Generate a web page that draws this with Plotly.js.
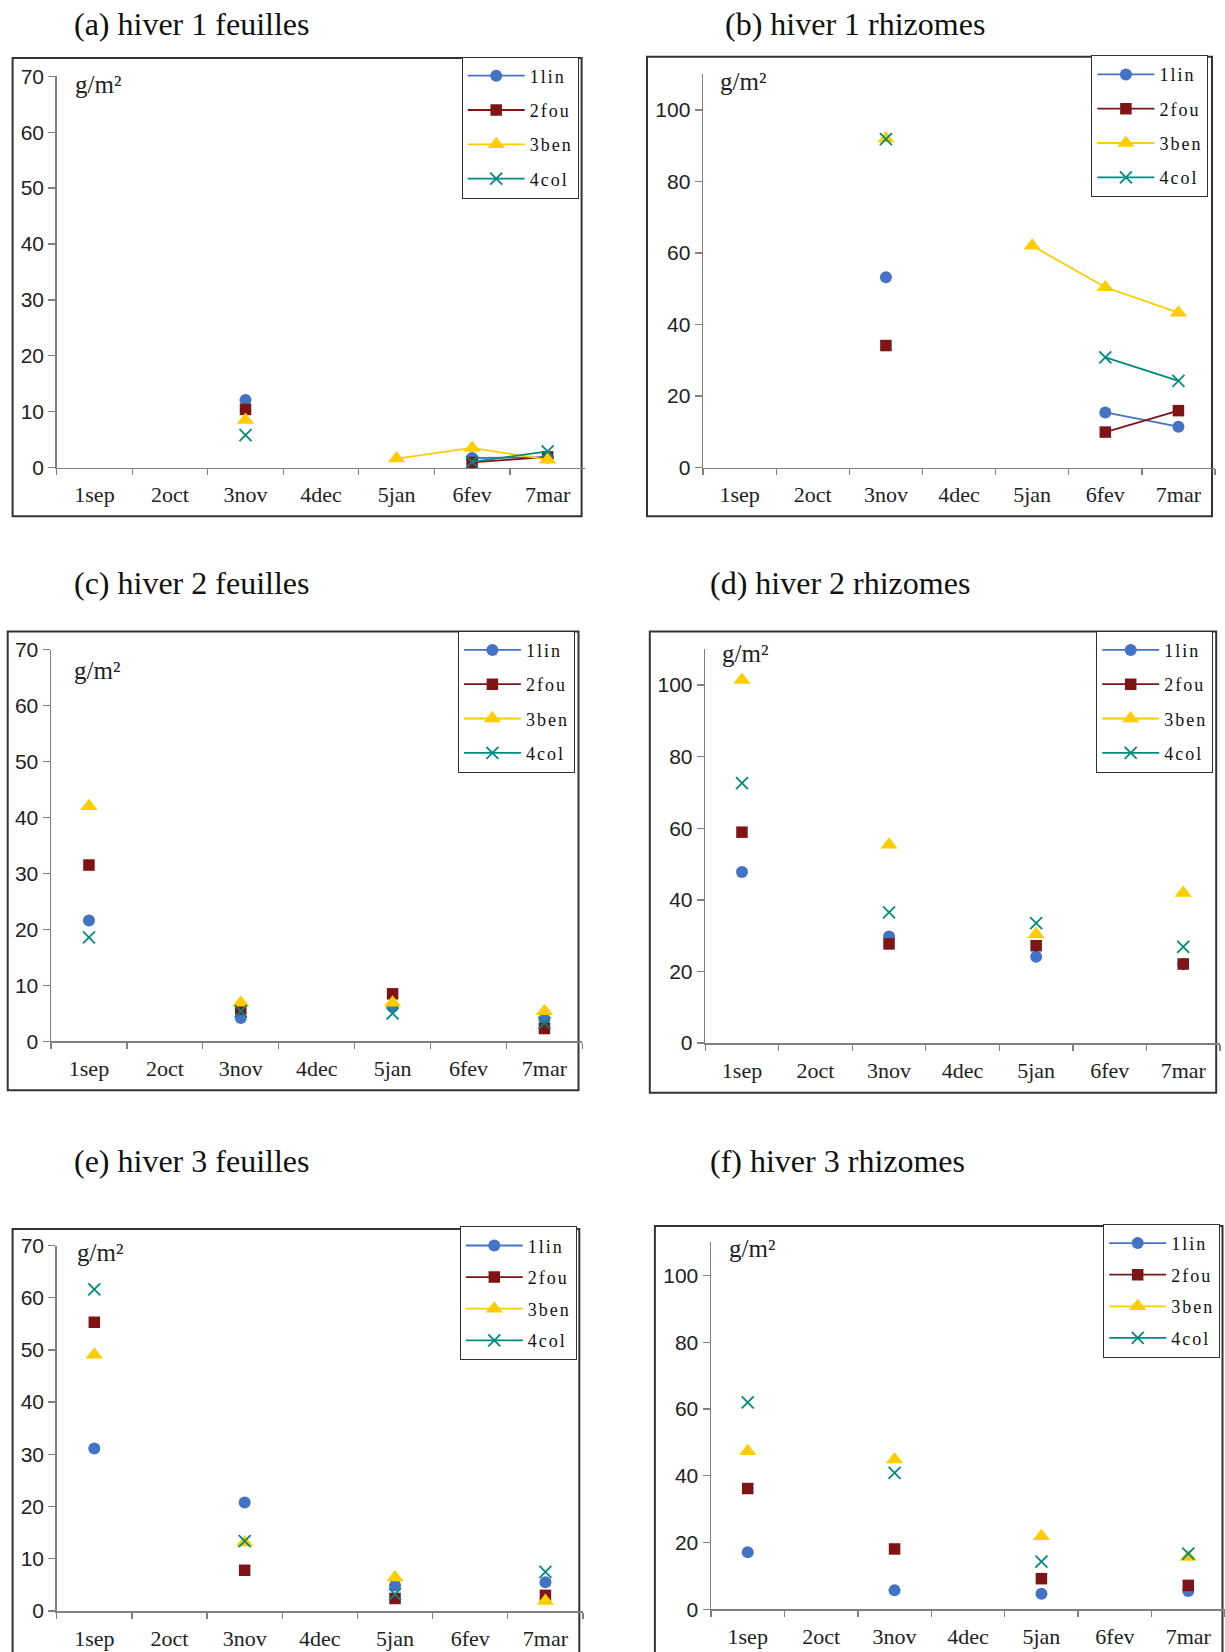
<!DOCTYPE html>
<html>
<head>
<meta charset="utf-8">
<script src="https://cdn.plot.ly/plotly-3.0.1.min.js"></script>
<style>
  html, body { margin: 0; padding: 0; background: #ffffff; }
  #chart { width: 1225px; height: 1652px; }
</style>
</head>
<body>
<div id="chart"></div>
<script>
// ---------- data ----------
const categories = ['1sep', '2oct', '3nov', '4dec', '5jan', '6fev', '7mar'];
const seriesNames = ['1lin', '2fou', '3ben', '4col'];
const panelTitles = [
  '(a) hiver 1 feuilles', '(b) hiver 1 rhizomes',
  '(c) hiver 2 feuilles', '(d) hiver 2 rhizomes',
  '(e) hiver 3 feuilles', '(f) hiver 3 rhizomes'
];
const unitLabel = 'g/m²';

// (a) hiver 1 feuilles
const a_lin = [null, null, 12.1, null, null, 1.7, 1.8];
const a_fou = [null, null, 10.4, null, null, 0.9, 1.9];
const a_ben = [null, null, 8.5, null, 1.6, 3.5, 1.4];
const a_col = [null, null, 5.8, null, null, 1.0, 2.9];
// (b) hiver 1 rhizomes
const b_lin = [null, null, 53.2, null, null, 15.4, 11.4];
const b_fou = [null, null, 34.1, null, null, 9.9, 15.9];
const b_ben = [null, null, 92.0, null, 62.0, 50.4, 43.3];
const b_col = [null, null, 91.8, null, null, 30.8, 24.2];
// (c) hiver 2 feuilles
const c_lin = [21.6, null, 4.2, null, 6.2, null, 3.9];
const c_fou = [31.5, null, 5.8, null, 8.5, null, 2.3];
const c_ben = [42.0, null, 6.9, null, 6.9, null, 5.4];
const c_col = [18.6, null, 5.4, null, 5.0, null, 3.3];
// (d) hiver 2 rhizomes
const d_lin = [47.8, null, 29.8, null, 24.1, null, 22.0];
const d_fou = [58.9, null, 27.7, null, 27.2, null, 22.1];
const d_ben = [101.4, null, 55.4, null, 30.4, null, 41.9];
const d_col = [72.6, null, 36.5, null, 33.5, null, 26.9];
// (e) hiver 3 feuilles
const e_lin = [31.1, null, 20.8, null, 4.9, null, 5.5];
const e_fou = [55.3, null, 7.8, null, 2.4, null, 3.0];
const e_ben = [49.1, null, 13.1, null, 6.4, null, 1.9];
const e_col = [61.6, null, 13.4, null, 3.2, null, 7.5];
// (f) hiver 3 rhizomes
const f_lin = [17.1, null, 5.7, null, 4.7, null, 5.5];
const f_fou = [36.2, null, 18.1, null, 9.2, null, 7.2];
const f_ben = [47.4, null, 44.9, null, 21.9, null, 15.7];
const f_col = [62.0, null, 40.9, null, 14.3, null, 16.7];

const yMax = [70, 110, 70, 110, 70, 110];
const yStep = [10, 20, 10, 20, 10, 20];

// ---------- styling / geometry (page pixels) ----------
const W = 1225, H = 1652;
const panelData = [
  [a_lin, a_fou, a_ben, a_col], [b_lin, b_fou, b_ben, b_col],
  [c_lin, c_fou, c_ben, c_col], [d_lin, d_fou, d_ben, d_col],
  [e_lin, e_fou, e_ben, e_col], [f_lin, f_fou, f_ben, f_col]
];
// plot area: x0, x1, yTop, yBottom
const plotBox = [
  [56.7, 585.4, 76.4, 467.5],
  [703.1, 1215.0, 74.1, 467.5],
  [51.0, 582.4, 649.5, 1041.4],
  [705.2, 1220.0, 649.2, 1043.1],
  [56.7, 583.0, 1245.5, 1611.0],
  [711.0, 1225.0, 1242.1, 1609.4]
];
const outerBox = [
  [12.6, 58.1, 581.6, 516.2],
  [647.0, 56.8, 1212.0, 516.2],
  [7.7, 631.6, 578.5, 1090.3],
  [649.8, 631.6, 1216.2, 1092.7],
  [12.6, 1228.9, 579.3, 1670],
  [654.9, 1225.9, 1222.5, 1670]
];
const titlePos = [[71.7, 23.7], [723.3, 23.7], [71.7, 583.4], [707.9, 583.4], [71.7, 1160.6], [708.0, 1160.6]];
const unitPos = [[72.5, 84.5], [718.0, 81.1], [71.7, 670.2], [720.0, 653.7], [74.8, 1252.5], [726.7, 1248.2]];
const legendPos = [[461.7, 56.5], [1091.4, 55.2], [457.9, 630.7], [1096.2, 630.7], [459.8, 1226.3], [1103.2, 1223.9]];
const legendGap = [7.9, 7.9, 7.9, 7.9, 5.2, 5.2];

const colors = ['#4472C4', '#7F1416', '#FFCC00', '#008B80'];
const symbols = ['circle', 'square', 'triangle-up', 'x-thin'];
const sizes = [12, 11.5, 15, 12];

const px = v => v / W;
const py = v => 1 - v / H;

const traces = [];
const layout = {
  width: W, height: H,
  margin: {l: 0, r: 0, t: 0, b: 0},
  paper_bgcolor: '#ffffff',
  plot_bgcolor: 'rgba(0,0,0,0)',
  showlegend: true,
  hovermode: false,
  shapes: [],
  annotations: []
};

for (let p = 0; p < 6; p++) {
  const sfx = p === 0 ? '' : String(p + 1);
  const xa = 'x' + sfx, ya = 'y' + sfx;
  const lg = 'legend' + sfx;
  for (let s = 0; s < 4; s++) {
    const isX = symbols[s] === 'x-thin';
    traces.push({
      type: 'scatter',
      mode: 'lines+markers',
      x: categories,
      y: panelData[p][s],
      name: '<span style="letter-spacing:2px">' + seriesNames[s] + '</span>',
      xaxis: xa, yaxis: ya,
      legend: lg,
      legendgroup: 'p' + p + 's' + s,
      connectgaps: false,
      cliponaxis: false,
      line: {color: colors[s], width: 1.8},
      marker: isX
        ? {symbol: symbols[s], size: sizes[s], color: colors[s], line: {color: colors[s], width: 1.8}}
        : {symbol: symbols[s], size: sizes[s], color: colors[s], line: {width: 0}}
    });
  }
  const pb = plotBox[p];
  layout['xaxis' + sfx] = {
    domain: [px(pb[0]), px(pb[1])],
    anchor: ya,
    type: 'category',
    categoryorder: 'array',
    categoryarray: categories,
    range: [-0.5, 6.5],
    tickson: 'boundaries',
    ticks: 'outside', ticklen: 6, tickwidth: 1.3, tickcolor: '#808080',
    showline: true, linecolor: '#808080', linewidth: 1.5,
    showgrid: false, zeroline: false,
    ticklabelstandoff: 7,
    tickfont: {family: 'Liberation Serif', size: 22, color: '#222222'},
    fixedrange: true
  };
  layout['yaxis' + sfx] = {
    domain: [py(pb[3]), py(pb[2])],
    anchor: xa,
    range: [0, yMax[p]],
    dtick: yStep[p], tick0: 0,
    ticks: 'outside', ticklen: 7, tickwidth: 1.3, tickcolor: '#808080',
    showline: true, linecolor: '#808080', linewidth: 1.5,
    showgrid: false, zeroline: false,
    ticklabelstandoff: 2.5,
    tickfont: {family: 'Liberation Sans', size: 21, color: '#222222'},
    fixedrange: true
  };
  layout[lg] = {
    x: px(legendPos[p][0]), y: py(legendPos[p][1]),
    xanchor: 'left', yanchor: 'top',
    bgcolor: '#ffffff', bordercolor: '#333333', borderwidth: 1,
    font: {family: 'Liberation Serif', size: 18, color: '#111111'},
    itemwidth: 57,
    traceorder: 'grouped',
    tracegroupgap: legendGap[p]
  };
  const ob = outerBox[p];
  layout.shapes.push({
    type: 'rect', xref: 'paper', yref: 'paper', layer: 'below',
    x0: px(ob[0]), x1: px(ob[2]), y0: py(ob[3]), y1: py(ob[1]),
    line: {color: '#333333', width: 2}, fillcolor: 'rgba(0,0,0,0)'
  });
  layout.annotations.push({
    xref: 'paper', yref: 'paper', x: px(titlePos[p][0]), y: py(titlePos[p][1]),
    xanchor: 'left', yanchor: 'middle', showarrow: false,
    text: panelTitles[p],
    font: {family: 'Liberation Serif', size: 32, color: '#111111'}
  });
  layout.annotations.push({
    xref: 'paper', yref: 'paper', x: px(unitPos[p][0]), y: py(unitPos[p][1]),
    xanchor: 'left', yanchor: 'middle', showarrow: false,
    text: unitLabel,
    font: {family: 'Liberation Serif', size: 25, color: '#222222'}
  });
}

Plotly.newPlot('chart', traces, layout, {staticPlot: true, displayModeBar: false});
</script>
</body>
</html>
